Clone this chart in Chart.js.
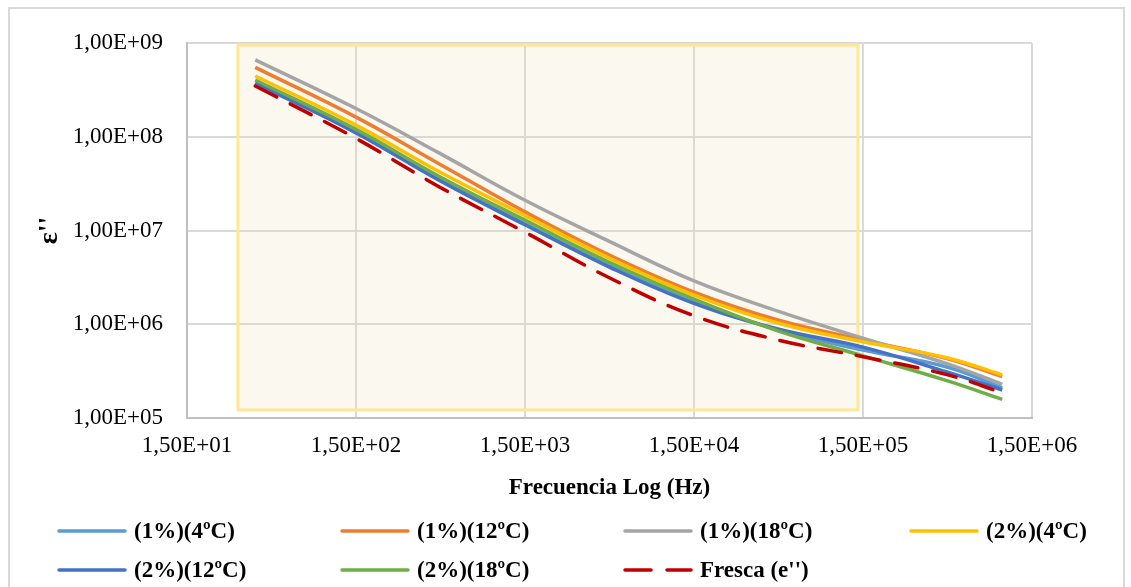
<!DOCTYPE html>
<html>
<head>
<meta charset="utf-8">
<script src="https://cdn.jsdelivr.net/npm/chart.js@4.4.1/dist/chart.umd.min.js"></script>
<style>
  html, body { margin: 0; padding: 0; background: #fff; }
  #wrap { position: relative; width: 1131px; height: 587px; overflow: hidden; }
  #frame { position: absolute; left: 8px; top: 7px; width: 1113px; height: 600px; border: 2px solid #D9D9D9; }
  #chart { position: absolute; left: 0; top: 0; }
  #legend {
    position: absolute; left: 57px; top: 511px;
    display: grid; grid-template-columns: 283px 283px 286px 200px; grid-auto-rows: 39px;
    font: bold 23px 'Liberation Serif', 'Times New Roman', serif; color: #000;
  }
  #legend .item { display: flex; align-items: center; gap: 7px; white-space: nowrap; }
</style>
</head>
<body>
<div id="wrap">
  <div id="frame"></div>
  <canvas id="chart" width="1131" height="587"></canvas>
  <div id="legend"></div>
</div>
<script>
// frequencies (Hz) the curves were read at
const freqHz = [38, 150, 470, 1500, 4700, 15000, 47000, 150000, 470000, 1000000];

// e'' values per series
const p1t4 = [3.66e8, 1.13e8, 3.5e7, 1.18e7, 4.25e6, 1.72e6, 8.7e5, 5.3e5, 3.5e5, 2.1e5];
const p1t12 = [5.5e8, 1.62e8, 5.1e7, 1.58e7, 5.5e6, 2.2e6, 1.11e6, 6.8e5, 4.3e5, 2.76e5];
const p1t18 = [6.6e8, 2.0e8, 6.65e7, 2.1e7, 7.7e6, 2.9e6, 1.38e6, 7.1e5, 3.8e5, 2.29e5];
const p2t4 = [4.45e8, 1.33e8, 4.2e7, 1.44e7, 5.1e6, 2.05e6, 1.03e6, 6.5e5, 4.4e5, 2.88e5];
const p2t12 = [3.77e8, 1.1e8, 3.4e7, 1.15e7, 4.1e6, 1.67e6, 8.9e5, 5.7e5, 3.1e5, 1.99e5];
const p2t18 = [4.03e8, 1.2e8, 3.75e7, 1.29e7, 4.6e6, 1.85e6, 8.5e5, 4.6e5, 2.5e5, 1.58e5];
const fresca = [3.48e8, 9.6e7, 2.9e7, 9.6e6, 3.15e6, 1.23e6, 6.8e5, 4.5e5, 2.9e5, 1.86e5];

const seriesNames = ['(1%)(4ºC)', '(1%)(12ºC)', '(1%)(18ºC)', '(2%)(4ºC)', '(2%)(12ºC)', '(2%)(18ºC)', "Fresca (e'')"];
const seriesValues = [p1t4, p1t12, p1t18, p2t4, p2t12, p2t18, fresca];
const seriesColors = ['#5B9BD5', '#ED7D31', '#A5A5A5', '#FFC000', '#4472C4', '#70AD47', '#C00000'];

// axis ticks
const xTickValues = [15, 150, 1500, 15000, 150000, 1500000];
const xTickLabels = ['1,50E+01', '1,50E+02', '1,50E+03', '1,50E+04', '1,50E+05', '1,50E+06'];
const yTickValues = [1e5, 1e6, 1e7, 1e8, 1e9];
const yTickLabels = ['1,00E+05', '1,00E+06', '1,00E+07', '1,00E+08', '1,00E+09'];

// shaded zone (Hz range, e'' range)
const zoneFreq = [30, 1.4e5];
const zoneEps = [1.22e5, 9.5e8];

const FONT = "'Liberation Serif', 'Times New Roman', serif";

const zonePlugin = {
    id: 'zone',
    beforeDatasetsDraw(chart) {
        const { ctx, scales: { x, y } } = chart;
        const l = x.getPixelForValue(zoneFreq[0]);
        const r = x.getPixelForValue(zoneFreq[1]);
        const t = y.getPixelForValue(zoneEps[1]);
        const b = y.getPixelForValue(zoneEps[0]);
        ctx.save();
        ctx.fillStyle = 'rgba(232, 218, 176, 0.2)';
        ctx.fillRect(l, t, r - l, b - t);
        ctx.strokeStyle = '#FFE699';
        ctx.lineWidth = 3;
        ctx.strokeRect(l, t, r - l, b - t);
        ctx.restore();
    },
};

const datasets = seriesNames.map((name, i) => ({
    label: name,
    data: freqHz.map((f, k) => ({ x: f, y: seriesValues[i][k] })),
    borderColor: seriesColors[i],
    backgroundColor: seriesColors[i],
    borderWidth: 3.5,
    pointRadius: 0,
    tension: 0.4,
    borderDash: i === 6 ? [24, 15] : undefined,
    borderCapStyle: i === 6 ? 'round' : 'butt',
    order: seriesNames.length - i,
}));

const chart = new Chart(document.getElementById('chart').getContext('2d'), {
    type: 'line',
    data: { datasets },
    options: {
        responsive: false,
        animation: false,
        layout: { padding: { left: 33, top: 43, right: 99, bottom: 85 } },
        plugins: {
            legend: { display: false },
            tooltip: { enabled: false },
        },
        scales: {
            x: {
                type: 'logarithmic',
                min: 15,
                max: 1500000,
                afterBuildTicks: (s) => { s.ticks = xTickValues.map(v => ({ value: v })); },
                afterFit: (s) => { s.height = 84; },
                grid: { color: '#D9D9D9', lineWidth: 2, drawTicks: false },
                border: { color: '#BFBFBF', width: 2 },
                ticks: {
                    color: '#000',
                    padding: 14,
                    maxRotation: 0,
                    font: { family: FONT, size: 23 },
                    callback: (v, i) => xTickLabels[i],
                },
                title: {
                    display: true,
                    text: 'Frecuencia Log (Hz)',
                    color: '#000',
                    padding: 0,
                    font: { family: FONT, size: 23, weight: 'bold' },
                },
            },
            y: {
                type: 'logarithmic',
                min: 1e5,
                max: 1e9,
                afterBuildTicks: (s) => { s.ticks = yTickValues.map(v => ({ value: v })); },
                afterFit: (s) => { s.width = 154; },
                grid: { color: '#D9D9D9', lineWidth: 2, drawTicks: false },
                border: { color: '#BFBFBF', width: 2 },
                ticks: {
                    color: '#000',
                    padding: 24,
                    font: { family: FONT, size: 23 },
                    callback: (v, i) => yTickLabels[i],
                },
                title: {
                    display: true,
                    text: "ε''",
                    color: '#000',
                    padding: 0,
                    font: { family: FONT, size: 28, weight: 'bold' },
                },
            },
        },
    },
    plugins: [zonePlugin],
});

// html legend, laid out in columns like the original
const legendEl = document.getElementById('legend');
chart.data.datasets.forEach((ds) => {
    const item = document.createElement('div');
    item.className = 'item';
    const dash = ds.borderDash ? 'stroke-dasharray="26 16"' : '';
    item.innerHTML = `<svg width="70" height="8"><line x1="2" y1="4" x2="68" y2="4" stroke="${ds.borderColor}" stroke-width="3.5" stroke-linecap="round" ${dash}/></svg><span>${ds.label}</span>`;
    legendEl.appendChild(item);
});
</script>
</body>
</html>
